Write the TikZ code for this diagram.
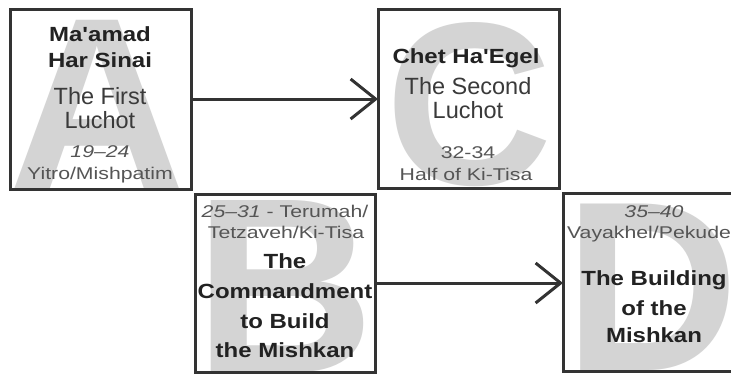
\documentclass[tikz,border=0pt]{standalone}
\usepackage{fontspec}
\setmainfont{Liberation Sans}
\newfontfamily\regf{Liberation Sans}
\newfontfamily\boldf{Liberation Sans}[FakeStretch=1.17]
\newfontfamily\smallf{Liberation Sans}[FakeStretch=1.25]
\usetikzlibrary{arrows.meta}
\definecolor{edge}{HTML}{333333}
\definecolor{ghost}{HTML}{D4D4D4}
\definecolor{boldtext}{HTML}{222222}
\definecolor{regtext}{HTML}{3A3A3A}
\definecolor{smalltext}{HTML}{555555}
\begin{document}
\begin{tikzpicture}[x=1pt,y=-1pt,
  panel/.style={draw=edge, line width=3pt, rectangle, inner sep=0pt, outer sep=0pt},
  bigletter/.style={anchor=base, inner sep=0pt, text=ghost, font=\regf\bfseries\fontsize{#1}{#1}\selectfont},
  ttl/.style={anchor=base, inner sep=0pt, text=boldtext, font=\boldf\bfseries\fontsize{20.5}{24}\selectfont},
  sub/.style={anchor=base, inner sep=0pt, text=regtext, font=\regf\fontsize{23.5}{26}\selectfont},
  note/.style={anchor=base, inner sep=0pt, text=smalltext, font=\smallf\fontsize{17}{20}\selectfont},
  link/.style={draw=edge, line width=3pt, -{Straight Barb[length=25pt, width=40pt, line width=3pt]}}
]
\useasboundingbox (0,0) rectangle (731,373);
\clip (0,0) rectangle (731,373);
\fill[white] (0,0) rectangle (731,373);

% ghost letters
\begin{scope}
  \clip (10,9) rectangle (191,189);
  \node[bigletter=246] (gA) at (97,189) {A};
\end{scope}
\begin{scope}
  \clip (378,9) rectangle (559,188);
  \node[bigletter=232] (gC) at (469,184) {C};
\end{scope}
\begin{scope}
  \clip (195,194) rectangle (375,372);
  \node[bigletter=250] (gB) at (285,372) {B};
\end{scope}
\begin{scope}
  \clip (563,193) rectangle (745,371);
  \node[bigletter=242] (gD) at (652,370) {D};
\end{scope}

% texts A
\node[ttl] (a1) at (100,41) {Ma'amad};
\node[ttl] (a2) at (100,67) {Har Sinai};
\node[sub] (a3) at (100,104) {The First};
\node[sub] (a4) at (100,128) {Luchot};
\node[note, font=\smallf\itshape\fontsize{17}{20}\selectfont] (a5) at (100,157) {19–24};
\node[note] (a6) at (100,179) {Yitro/Mishpatim};

% texts C
\node[ttl] (c1) at (466,63) {Chet Ha'Egel};
\node[sub] (c2) at (468,94) {The Second};
\node[sub] (c3) at (468,118) {Luchot};
\node[note] (c4) at (468,158) {32-34};
\node[note] (c5) at (466,180) {Half of Ki-Tisa};

% texts B
\node[note] (b1) at (285,217) {\itshape 25–31\upshape{} - Terumah/};
\node[note] (b2) at (286,238) {Tetzaveh/Ki-Tisa};
\node[ttl] (b3) at (285,268) {The};
\node[ttl] (b4) at (285,298) {Commandment};
\node[ttl] (b5) at (285,328) {to Build};
\node[ttl] (b6) at (285,357) {the Mishkan};

% texts D
\node[note, font=\smallf\itshape\fontsize{17}{20}\selectfont] (d1) at (654,217) {35–40};
\node[note] (d2) at (649,238) {Vayakhel/Pekude};
\node[ttl] (d3) at (654,285) {The Building};
\node[ttl] (d4) at (654,315) {of the};
\node[ttl] (d5) at (654,342) {Mishkan};

% boxes
\node[panel, minimum width=181pt, minimum height=180pt] (boxA) at (100.5,99) {};
\node[panel, minimum width=181pt, minimum height=179pt] (boxC) at (468.5,98.5) {};
\node[panel, minimum width=180pt, minimum height=178pt] (boxB) at (285,283) {};
\node[panel, minimum width=182pt, minimum height=178pt] (boxD) at (654,282) {};

% connectors
\draw[link] (boxA.east) -- (boxA.east -| boxC.west);
\draw[link] (boxB.east) -- (boxB.east -| boxD.west);
\end{tikzpicture}
\end{document}
